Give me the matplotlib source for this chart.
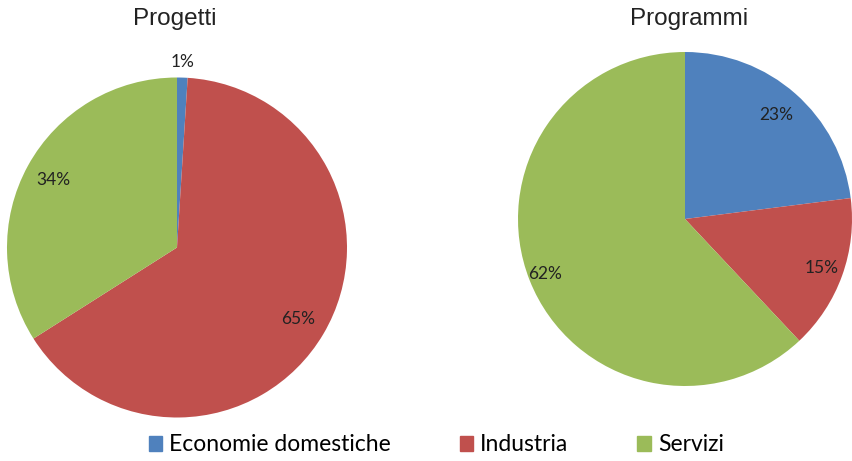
import numpy as np
import matplotlib.pyplot as plt
from matplotlib.patches import Patch

# Dati
categorie = ["Economie domestiche", "Industria", "Servizi"]
progetti = [1, 65, 34]
programmi = [23, 15, 62]
colori = ["#4F81BD", "#C0504D", "#9BBB59"]

# distanza delle etichette dal centro (frazione del raggio)
dist_progetti = [1.09, 0.83, 0.83]
dist_programmi = [0.83, 0.87, 0.90]

plt.rcParams['font.family'] = ['Lato', 'DejaVu Sans']

fig = plt.figure(figsize=(8.52, 4.61), dpi=100)
W, H = 852, 461


def torta(cx, cy, r, valori, dist, titolo, tx, ty):
    # cx, cy in pixel (cy dall'alto)
    ax = fig.add_axes([(cx - r) / W, (H - cy - r) / H, 2 * r / W, 2 * r / H])
    wedges, _, autotexts = ax.pie(valori, colors=colori, startangle=90,
                                  counterclock=False, autopct='%1.0f%%',
                                  textprops=dict(fontsize=12.5, color='#222222'),
                                  wedgeprops=dict(linewidth=0))
    for w, t, d in zip(wedges, autotexts, dist):
        ang = np.deg2rad((w.theta1 + w.theta2) / 2)
        t.set_position((d * np.cos(ang), d * np.sin(ang)))
    ax.set_xlim(-1, 1)
    ax.set_ylim(-1, 1)
    ax.set_aspect('auto')
    ax.axis('off')
    fig.text(tx / W, 1 - ty / H, titolo, ha='center', va='center',
             fontsize=17.5, family='Liberation Sans', color='#222222')
    return ax


torta(177, 247.5, 170, progetti, dist_progetti, "Progetti", 175, 19)
torta(685, 219, 167, programmi, dist_programmi, "Programmi", 689, 19)

handles = [Patch(color=c) for c in colori]
fig.legend(handles, categorie, loc='center', bbox_to_anchor=(0.512, 0.035),
           ncol=3, frameon=False, fontsize=16.5, handlelength=0.6,
           handleheight=0.6, handletextpad=0.3, columnspacing=3.0)

fig.savefig("out.png", dpi=100)
